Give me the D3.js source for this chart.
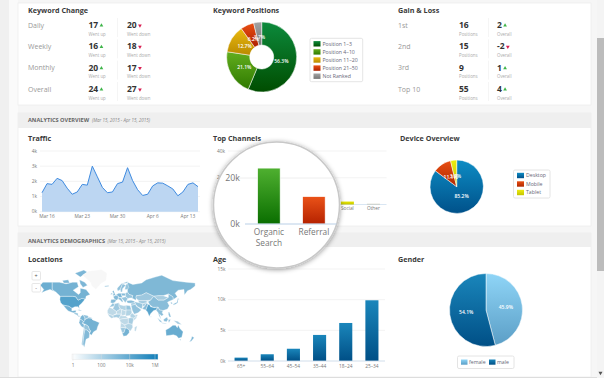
<!DOCTYPE html>
<html>
<head>
<meta charset="utf-8">
<script src="https://cdn.jsdelivr.net/npm/d3@7"></script>
<style>
html, body { margin: 0; padding: 0; background: #f6f6f6; overflow: hidden; }
svg { display: block; }
text { font-family: "Open Sans", sans-serif; }
.title { font-size: 7.2px; font-weight: 700; fill: #3a3a3a; }
.tick-label { font-size: 4.8px; fill: #777; }
.row-label { font-size: 7px; fill: #999; }
.big { font-size: 8.5px; font-weight: 700; fill: #333; }
.small { font-size: 4.4px; fill: #aaa; }
.legend-label { font-size: 5.2px; fill: #667; }
.slice-label { font-size: 5px; font-weight: 600; fill: #fff; text-anchor: middle; }
</style>
</head>
<body>
<div id="chart"></div>
<script>
// ---- data ----
var changeRows = ["Daily", "Weekly", "Monthly", "Overall"];
var wentUp = [17, 16, 20, 24];
var wentDown = [20, 18, 17, 27];

var gainRows = ["1st", "2nd", "3rd", "Top 10"];
var gainPositions = [16, 15, 9, 55];
var gainOverall = [2, -2, 1, 4];

var positionNames = ["Position 1\u20133", "Position 4\u201310", "Position 11\u201320", "Position 21\u201350", "Not Ranked"];
var positionValues = [56.3, 21.1, 12.7, 6.2, 3.7];

var trafficStart = "2015-03-15";
var trafficValues = [1.25, 1.85, 1.8, 2.2, 2.05, 1.55, 1.15, 1.3, 1.8, 1.75, 3.0, 2.3, 1.6, 1.25, 1.3, 1.85,
    1.95, 2.9, 2.05, 1.45, 1.07, 1.15, 1.7, 1.9, 1.88, 1.7, 1.5, 1.05, 1.3, 1.8, 1.9, 1.65];
var trafficTicks = ["2015-03-16", "2015-03-23", "2015-03-30", "2015-04-06", "2015-04-13"];

// the 3rd and 4th channel sit behind the magnifier, so they have no bar
var channelNames = ["Organic Search", "Referral", "-a", "-b", "Social", "Other"];
var channelValues = [24300, 11900, 0, 0, 2200, 600];

var deviceNames = ["Desktop", "Mobile", "Tablet"];
var deviceValues = [85.2, 11.1, 3.7];

var ageNames = ["65+", "55\u201364", "45\u201354", "35\u201344", "18\u201324", "25\u201334"];
var ageValues = [550, 1100, 2000, 4250, 6200, 9900];

var genderNames = ["female", "male"];
var genderValues = [45.9, 54.1];

// rough country outlines as [lon, lat], with visits
var countries = [
    {v: 16000, p: [[-123,49],[-95,49],[-88,48],[-83,42],[-75,45],[-67,45],[-70,41],[-76,35],[-81,31],[-80,25],[-83,29],[-90,29],[-97,26],[-104,30],[-110,31],[-117,32.5],[-122,37],[-124,43]]},
    {v: 4000, p: [[-168,66],[-162,70],[-141,70],[-141,60],[-133,56],[-146,60],[-155,58],[-165,55],[-160,60]]},
    {v: 2500, p: [[-141,70],[-125,70],[-110,68],[-95,70],[-85,70],[-82,64],[-94,59],[-82,52],[-78,55],[-78,62],[-65,60],[-56,52],[-65,49],[-66,44],[-75,45],[-83,42],[-88,48],[-95,49],[-123,49],[-133,56],[-141,60]]},
    {v: 1500, p: [[-80,73],[-68,70],[-62,66],[-72,63],[-78,68]]},
    {v: 1500, p: [[-90,80],[-70,83],[-62,81],[-78,76]]},
    {v: 1500, p: [[-118,72],[-105,73],[-102,69],[-115,69]]},
    {v: 1, p: [[-73,78],[-60,82],[-30,83.5],[-18,80],[-20,72],[-32,68],[-43,60],[-52,65],[-55,70]]},
    {v: 3000, p: [[-117,32.5],[-110,31],[-104,30],[-97,26],[-97,20],[-90,21],[-87,21],[-89,16],[-94,16],[-105,20],[-110,25]]},
    {v: 300, p: [[-92,16],[-88,16],[-83,15],[-83,10],[-78,9],[-81,7],[-86,11],[-92,14]]},
    {v: 120, p: [[-85,22],[-80,23],[-74,20],[-78,20]]},
    {v: 2500, p: [[-74,-7],[-70,-4],[-69,1],[-60,5],[-52,4],[-50,0],[-44,-2],[-35,-6],[-39,-15],[-41,-22],[-48,-26],[-53,-33],[-57,-30],[-55,-24],[-58,-20],[-60,-14],[-66,-10]]},
    {v: 1800, p: [[-77,8],[-72,12],[-68,6],[-67,1],[-70,-4],[-75,0],[-79,2]]},
    {v: 500, p: [[-72,12],[-62,10],[-60,8],[-60,5],[-69,1],[-67,1],[-68,6]]},
    {v: 120, p: [[-60,8],[-52,5],[-50,0],[-52,4],[-60,5]]},
    {v: 1200, p: [[-80,-3],[-79,2],[-75,0],[-70,-4],[-74,-7],[-69,-11],[-70,-18],[-76,-14],[-81,-6]]},
    {v: 300, p: [[-69,-11],[-66,-10],[-60,-14],[-58,-20],[-55,-24],[-58,-27],[-63,-22],[-68,-22],[-70,-18]]},
    {v: 500, p: [[-70,-18],[-68,-22],[-71,-40],[-72,-50],[-68,-55],[-75,-50],[-73,-37]]},
    {v: 1000, p: [[-68,-22],[-63,-22],[-58,-27],[-57,-30],[-58,-38],[-65,-41],[-68,-52],[-68,-55],[-72,-50],[-71,-40]]},
    {v: 1300, p: [[28,70],[40,67],[60,69],[70,73],[90,76],[105,78],[130,72],[160,70],[180,69],[180,65],[170,60],[163,58],[156,51],[155,60],[142,59],[135,54],[140,48],[131,43],[130,48],[120,53],[108,50],[98,50],[87,49],[70,55],[60,51],[48,50],[47,42],[38,46],[40,50],[32,52],[28,56]]},
    {v: 200, p: [[48,50],[60,51],[70,55],[87,49],[80,42],[68,41],[56,41],[52,42],[47,46]]},
    {v: 120, p: [[87,49],[98,50],[108,50],[120,47],[110,42],[97,42]]},
    {v: 700, p: [[80,42],[87,49],[97,42],[110,42],[120,47],[120,53],[130,48],[131,43],[122,40],[118,38],[122,31],[118,24],[108,21],[100,22],[97,28],[85,28],[78,33],[74,39]]},
    {v: 12000, p: [[74,34],[78,33],[80,29],[88,27],[96,28],[92,22],[87,21],[80,14],[77,8],[73,18],[69,22],[71,27]]},
    {v: 800, p: [[61,25],[69,22],[71,27],[74,34],[71,37],[66,30]]},
    {v: 150, p: [[52,42],[56,41],[68,41],[74,39],[71,37],[62,35],[54,37]]},
    {v: 100, p: [[62,35],[71,37],[66,30],[61,30]]},
    {v: 300, p: [[44,39],[54,37],[62,35],[61,25],[57,26],[50,30],[46,34]]},
    {v: 700, p: [[26,41],[36,42],[44,40],[44,37],[36,36],[28,36.5]]},
    {v: 400, p: [[36,32],[46,34],[48,30],[56,25],[59,22],[52,16],[43,13],[39,21]]},
    {v: 200, p: [[36,36],[44,37],[46,34],[36,32]]},
    {v: 600, p: [[97,28],[100,22],[108,21],[106,16],[109,12],[105,9],[100,13],[104,1],[99,9],[97,16],[92,22]]},
    {v: 1200, p: [[130,32],[136,34],[141,37],[142,43],[145,44],[141,45],[139,38],[132,35]]},
    {v: 500, p: [[125,38],[128,38],[129,35],[126,34.5]]},
    {v: 900, p: [[120,18],[122,18],[126,7],[122,7],[120,13]]},
    {v: 800, p: [[95,5],[104,-2],[106,-6],[101,-4]]},
    {v: 800, p: [[106,-6],[115,-7.5],[115,-8.5],[106,-7.5]]},
    {v: 700, p: [[109,1],[117,7],[119,1],[116,-4],[110,-3]]},
    {v: 500, p: [[120,1],[125,1],[122,-5],[120,-5]]},
    {v: 150, p: [[131,-1],[141,-3],[150,-10],[141,-9],[135,-4]]},
    {v: 200, p: [[80,9],[82,7],[80.5,6]]},
    {v: 5000, p: [[114,-22],[122,-18],[130,-12],[136,-12],[140,-17],[142,-11],[146,-19],[153,-26],[150,-37],[143,-39],[138,-34],[131,-32],[124,-33],[115,-34]]},
    {v: 2000, p: [[145,-41],[148,-41],[147,-43.5]]},
    {v: 1500, p: [[173,-35],[178,-38],[175,-41],[172,-44],[167,-46],[171,-41]]},
    {v: 30, p: [[44,-16],[50,-13],[47,-25],[44,-24]]},
    {v: 800, p: [[-10,37],[-9,43],[-1,43.5],[3,42],[0,38],[-5,36]]},
    {v: 1000, p: [[-1,43.5],[-4,48],[2,51],[8,49],[7,44],[3,42]]},
    {v: 3000, p: [[-5,50],[1,51],[-2,56],[-3,58.5],[-6,57],[-3,54]]},
    {v: 300, p: [[-10,52],[-6,52],[-6,55],[-9,54]]},
    {v: 120, p: [[-24,65],[-14,66],[-14,64.5],[-22,63.5]]},
    {v: 400, p: [[5,59],[5,62],[14,68],[28,71],[28,69],[17,68],[12,60],[8,58]]},
    {v: 500, p: [[12,60],[17,68],[24,66],[17,61],[16,56],[13,56]]},
    {v: 300, p: [[24,66],[28,69],[31,63],[28,60],[22,60]]},
    {v: 1400, p: [[2,51],[8,54],[14,54],[15,50],[17,47],[8,47],[8,49]]},
    {v: 800, p: [[14,54],[23,54],[24,50],[15,50]]},
    {v: 700, p: [[7,44],[8,47],[14,46],[18,40],[16,38],[12,42]]},
    {v: 300, p: [[14,46],[17,47],[24,48],[29,45],[26,41],[23,37],[19,42]]},
    {v: 300, p: [[23,54],[28,56],[32,52],[40,50],[38,46],[33,46],[29,45],[24,48],[24,50]]},
    {v: 300, p: [[-6,36],[-1,35],[-2,30],[-13,28],[-9,32]]},
    {v: 200, p: [[-1,35],[9,37],[9,30],[12,24],[3,19],[-5,25],[-2,30]]},
    {v: 60, p: [[9,37],[11,33],[20,31],[25,32],[25,20],[15,23],[12,24],[9,30]]},
    {v: 300, p: [[25,32],[34,31],[37,22],[25,22]]},
    {v: 30, p: [[-17,21],[-13,28],[-5,25],[3,19],[4,15],[-5,10],[-12,12],[-17,15]]},
    {v: 30, p: [[3,19],[12,24],[15,23],[14,13],[4,13]]},
    {v: 30, p: [[15,23],[25,20],[24,12],[15,9],[14,13]]},
    {v: 60, p: [[25,22],[37,22],[38,16],[34,10],[24,9],[24,12],[25,20]]},
    {v: 60, p: [[34,10],[38,16],[43,12],[48,8],[42,4],[35,5]]},
    {v: 30, p: [[43,12],[51,12],[48,4],[41,-2],[42,4],[48,8]]},
    {v: 60, p: [[-17,15],[-12,12],[-5,10],[-3,5],[-8,4],[-13,8]]},
    {v: 120, p: [[-5,10],[4,13],[14,13],[9,4],[3,6],[-3,5]]},
    {v: 30, p: [[9,4],[14,13],[15,9],[24,9],[30,4],[18,3],[10,1]]},
    {v: 30, p: [[10,1],[18,3],[30,4],[30,-8],[22,-11],[13,-6]]},
    {v: 120, p: [[30,4],[35,5],[42,4],[41,-2],[39,-10],[30,-8]]},
    {v: 30, p: [[13,-6],[22,-11],[24,-17],[12,-17]]},
    {v: 60, p: [[22,-11],[30,-8],[39,-10],[40,-16],[35,-24],[32,-22],[24,-17]]},
    {v: 200, p: [[12,-17],[24,-17],[20,-28],[16,-28]]},
    {v: 2500, p: [[16,-28],[20,-28],[24,-17],[32,-22],[32,-28],[26,-34],[19,-35]]}
];

var mapTicks = [1, 100, 10000, 1000000];
var mapTickLabels = ["1", "100", "10k", "1M"];

// ---- page ----
var width = 604, height = 378;

var svg = d3.select("#chart").append("svg")
    .attr("width", width)
    .attr("height", height);

var defs = svg.append("defs");

function gradient(id, top, bottom) {
    var g = defs.append("linearGradient").attr("id", id)
        .attr("x1", 0).attr("y1", 0).attr("x2", 0).attr("y2", 1);
    g.append("stop").attr("offset", "0%").attr("stop-color", top);
    g.append("stop").attr("offset", "100%").attr("stop-color", bottom);
    return "url(#" + id + ")";
}

var positionFill = [gradient("p0", "#0c8a3c", "#004d00"), gradient("p1", "#62ad1e", "#2f7a00"),
    gradient("p2", "#eab90f", "#b98a00"), gradient("p3", "#ea4f12", "#ad2000"), gradient("p4", "#a3a3a3", "#777")];
var deviceFill = [gradient("d0", "#0d8cc4", "#00518a"), gradient("d1", "#e84e12", "#b02800"), gradient("d2", "#ecec10", "#c4c400")];
var genderFill = [gradient("g0", "#8fd5f7", "#5b9ec6"), gradient("g1", "#1a86bb", "#004f86")];
var ageFill = gradient("a0", "#1a86bb", "#004f86");
var channelFill = {"Organic Search": gradient("c0", "#4fb030", "#0a6e00"), "Referral": gradient("c1", "#ea5218", "#b52200"),
    "Social": gradient("c2", "#e6e600", "#c4c400"), "Other": gradient("c3", "#d8d8c8", "#c4c4b4")};

var shadow = defs.append("filter").attr("id", "lens-shadow")
    .attr("x", "-20%").attr("y", "-20%").attr("width", "140%").attr("height", "140%");
shadow.append("feDropShadow").attr("dx", 0).attr("dy", 1).attr("stdDeviation", 2.5)
    .attr("flood-color", "#000").attr("flood-opacity", 0.4);

// left gutter and scrollbar
svg.append("rect").attr("width", 9).attr("height", height).attr("fill", "#f0f0f0");
svg.append("rect").attr("x", 9).attr("width", 9).attr("height", height).attr("fill", "#fafafa");
svg.append("rect").attr("x", 597).attr("width", 7).attr("height", height).attr("fill", "#f4f4f4");
svg.append("rect").attr("x", 597).attr("y", 38).attr("width", 7).attr("height", 233).attr("fill", "#bcbcbc");
svg.append("path").attr("d", d3.symbol(d3.symbolTriangle, 7)()).attr("fill", "#555")
    .attr("transform", "translate(600.5,373) rotate(180)");

// cards
var cards = [[3, 102, 0], [113, 113, 15], [233, 144, 14]];
cards.forEach(function(c) {
    svg.append("rect").attr("x", 18).attr("y", c[0]).attr("width", 573).attr("height", c[1])
        .attr("fill", "#fff").attr("stroke", "#ececec").attr("stroke-width", 0.7);
    if (c[2]) {
        svg.append("rect").attr("x", 18).attr("y", c[0]).attr("width", 573).attr("height", c[2]).attr("fill", "#efefef");
    }
});
svg.append("rect").attr("x", 0).attr("y", 377).attr("width", 597).attr("height", 1).attr("fill", "#ddd");

function header(y, name, dateX) {
    svg.append("text").attr("x", 28).attr("y", y).attr("font-size", 5.6).attr("font-weight", 700)
        .attr("fill", "#666").text(name);
    svg.append("text").attr("x", dateX).attr("y", y).attr("font-size", 4.5).attr("font-style", "italic")
        .attr("fill", "#888").text("(Mar 15, 2015 - Apr 15, 2015)");
}
header(122, "ANALYTICS OVERVIEW", 92);
header(243, "ANALYTICS DEMOGRAPHICS", 107.5);

function title(x, y, name) {
    svg.append("text").attr("class", "title").attr("x", x).attr("y", y).text(name);
}
title(28, 12.5, "Keyword Change");
title(213, 12.5, "Keyword Positions");
title(398, 12.5, "Gain & Loss");
title(28, 141, "Traffic");
title(213, 141, "Top Channels");
title(400, 141, "Device Overview");
title(28, 261.5, "Locations");
title(213, 261.5, "Age");
title(398, 261.5, "Gender");

// ---- stat tables ----
function marker(x, y, isUp) {
    svg.append("path").attr("d", d3.symbol(d3.symbolTriangle, 6)())
        .attr("fill", isUp ? "#3fb54a" : "#d81e50")
        .attr("transform", "translate(" + x + "," + y + ")" + (isUp ? "" : " rotate(180)"));
}

function statTable(rows, first, second, firstLabel, secondLabel, x0, x1, x2, divX, firstMarks) {
    var y = d3.scalePoint().domain(rows).range([28, 92]);
    rows.forEach(function(r, i) {
        var yy = y(r);
        svg.append("text").attr("class", "row-label").attr("x", x0).attr("y", yy - 0.5).text(r);
        var a = svg.append("text").attr("class", "big").attr("x", x1).attr("y", yy).text(first[i]);
        svg.append("text").attr("class", "small").attr("x", x1).attr("y", yy + 7.5).text(firstLabel);
        var b = svg.append("text").attr("class", "big").attr("x", x2).attr("y", yy).text(second[i]);
        svg.append("text").attr("class", "small").attr("x", x2).attr("y", yy + 7.5).text(secondLabel);
        svg.append("line").attr("x1", divX).attr("x2", divX).attr("y1", yy - 10).attr("y2", yy + 9)
            .attr("stroke", "#f0f0f0").attr("stroke-width", 0.7);
        if (firstMarks) marker(x1 + a.node().getComputedTextLength() + 3.2, yy - 2.5, true);
        marker(x2 + b.node().getComputedTextLength() + 3.2, yy - 2.5, firstMarks ? false : second[i] > 0);
    });
}
statTable(changeRows, wentUp, wentDown, "Went up", "Went down", 28, 88.5, 127, 117.5, true);
statTable(gainRows, gainPositions, gainOverall, "Positions", "Overall", 398, 459, 497, 488.5, false);

// ---- pies ----
function drawPie(cx, cy, r, inner, values, fills, labelR) {
    var pie = d3.pie().sort(null)(values);
    var arc = d3.arc().innerRadius(inner).outerRadius(r);
    var label = d3.arc().innerRadius(labelR).outerRadius(labelR);
    var g = svg.append("g").attr("transform", "translate(" + cx + "," + cy + ")");
    g.selectAll("path").data(pie).enter().append("path")
        .attr("d", arc)
        .attr("fill", function(d, i) { return fills[i]; })
        .attr("stroke", "#fff").attr("stroke-width", 0.5);
    g.selectAll("text").data(pie).enter().append("text")
        .attr("class", "slice-label")
        .attr("transform", function(d) { return "translate(" + label.centroid(d) + ")"; })
        .attr("dy", "0.35em")
        .text(function(d) { return d3.format(".1f")(d.value) + "%"; });
}
drawPie(261.7, 57, 35, 12, positionValues, positionFill, 20);
drawPie(456.7, 186.7, 26.7, 0, deviceValues, deviceFill, 11);
drawPie(486, 310, 36.5, 0, genderValues, genderFill, 20);

function legendBox(x, y, w, h) {
    svg.append("rect").attr("x", x).attr("y", y).attr("width", w).attr("height", h).attr("rx", 1.5)
        .attr("fill", "#fff").attr("stroke", "#ddd").attr("stroke-width", 0.8);
}
function verticalLegend(x, y, w, h, names, fills) {
    legendBox(x, y, w, h);
    var ly = d3.scalePoint().domain(names).range([y + 5.5, y + h - 5.5]);
    names.forEach(function(n, i) {
        svg.append("rect").attr("x", x + 3.5).attr("y", ly(n) - 2.7).attr("width", 7).attr("height", 5.4).attr("fill", fills[i]);
        svg.append("text").attr("class", "legend-label").attr("x", x + 12.5).attr("y", ly(n) + 1.9).text(n);
    });
}
verticalLegend(310, 38.3, 52.7, 43.4, positionNames, positionFill);
verticalLegend(513.5, 170, 36.5, 28, deviceNames, deviceFill);

legendBox(457.5, 356, 56.5, 12.5);
[[461, 0], [489, 1]].forEach(function(g) {
    svg.append("rect").attr("x", g[0]).attr("y", 359.5).attr("width", 6.5).attr("height", 5.2).attr("fill", genderFill[g[1]]);
    svg.append("text").attr("class", "legend-label").attr("x", g[0] + 8).attr("y", 364).text(genderNames[g[1]]);
});

// ---- grid helper ----
function yGrid(y, ticks, x0, x1, format, labelX) {
    ticks.forEach(function(t) {
        svg.append("line").attr("x1", x0).attr("x2", x1).attr("y1", y(t)).attr("y2", y(t))
            .attr("stroke", "#f0f0f0").attr("stroke-width", 0.8);
        svg.append("text").attr("class", "tick-label").attr("x", labelX).attr("y", y(t)).attr("dy", "0.35em")
            .attr("text-anchor", "end").text(format(t));
    });
}
var kFormat = function(t) { return (t / 1000) + "k"; };

// ---- traffic ----
var parseDay = d3.timeParse("%Y-%m-%d");
var trafficX = d3.scaleTime()
    .domain([parseDay(trafficStart), d3.timeDay.offset(parseDay(trafficStart), trafficValues.length - 1)])
    .range([42, 198]);
var trafficY = d3.scaleLinear().domain([0, 4]).range([211.7, 151]);
yGrid(trafficY, [0, 1, 2, 3, 4], 40, 200, function(t) { return t + "k"; }, 37);

var dayAt = function(d, i) { return trafficX(d3.timeDay.offset(parseDay(trafficStart), i)); };
svg.append("path").datum(trafficValues)
    .attr("fill", "#bcd6f2")
    .attr("d", d3.area().x(dayAt).y0(trafficY(0)).y1(function(d) { return trafficY(d); }));
svg.append("path").datum(trafficValues)
    .attr("fill", "none").attr("stroke", "#3f8be0").attr("stroke-width", 1)
    .attr("d", d3.line().x(dayAt).y(function(d) { return trafficY(d); }));
trafficTicks.forEach(function(t) {
    svg.append("text").attr("class", "tick-label").attr("x", trafficX(parseDay(t))).attr("y", 218)
        .attr("text-anchor", "middle").text(d3.timeFormat("%b %-d")(parseDay(t)));
});

// ---- top channels, base chart (most of it under the lens) ----
var channelX = d3.scaleBand().domain(channelNames).range([230, 386.5]);
var channelY = d3.scaleLinear().domain([0, 40000]).range([204.5, 151]);
yGrid(channelY, [20000, 40000], 228, 386.5, kFormat, 225);
svg.append("line").attr("x1", 228).attr("x2", 386.5).attr("y1", channelY(0)).attr("y2", channelY(0))
    .attr("stroke", "#cfdff0").attr("stroke-width", 0.8);
svg.selectAll(".channel").data(channelNames.filter(function(d, i) { return i >= 4; })).enter().append("rect")
    .attr("class", "channel")
    .attr("x", function(d) { return channelX(d) + channelX.bandwidth() * 0.25; })
    .attr("width", channelX.bandwidth() * 0.5)
    .attr("y", function(d) { return channelY(channelValues[channelNames.indexOf(d)]); })
    .attr("height", function(d) { return channelY(0) - channelY(channelValues[channelNames.indexOf(d)]); })
    .attr("fill", function(d) { return channelFill[d]; });
["Social", "Other"].forEach(function(n) {
    svg.append("text").attr("class", "tick-label").attr("x", channelX(n) + channelX.bandwidth() * 0.5).attr("y", 210)
        .attr("text-anchor", "middle").text(n);
});

// ---- age ----
var ageX = d3.scaleBand().domain(ageNames).range([228, 385]).paddingInner(0.5).paddingOuter(0.25);
var ageY = d3.scaleLinear().domain([0, 15000]).range([361, 269]);
yGrid(ageY, [0, 5000, 10000, 15000], 228, 385, kFormat, 225.5);
svg.selectAll(".age").data(ageNames).enter().append("rect")
    .attr("class", "age")
    .attr("x", function(d) { return ageX(d); })
    .attr("width", ageX.bandwidth())
    .attr("y", function(d, i) { return ageY(ageValues[i]); })
    .attr("height", function(d, i) { return ageY(0) - ageY(ageValues[i]); })
    .attr("fill", ageFill);
svg.append("line").attr("x1", 228).attr("x2", 385).attr("y1", ageY(0)).attr("y2", ageY(0))
    .attr("stroke", "#cfdff0").attr("stroke-width", 0.8);
ageNames.forEach(function(n) {
    svg.append("text").attr("class", "tick-label").attr("x", ageX(n) + ageX.bandwidth() / 2).attr("y", 367.5)
        .attr("text-anchor", "middle").text(n);
});

// ---- magnifier: same channel values, larger scales ----
var lens = {x: 276.5, y: 205, r: 63};
defs.append("clipPath").attr("id", "lens-clip").append("circle")
    .attr("cx", lens.x).attr("cy", lens.y).attr("r", lens.r);
svg.append("circle").attr("cx", lens.x).attr("cy", lens.y).attr("r", lens.r)
    .attr("fill", "#fff").attr("stroke", "#c8c8c8").attr("stroke-width", 1.5)
    .attr("filter", "url(#lens-shadow)");

var lensG = svg.append("g").attr("clip-path", "url(#lens-clip)");
var lensX = d3.scaleBand().domain(channelNames).range([246.4, 516.4]);
var lensY = d3.scaleLinear().domain([0, 20000]).range([224, 178]);

lensG.append("line").attr("x1", 232).attr("x2", lens.x + lens.r).attr("y1", lensY(20000)).attr("y2", lensY(20000))
    .attr("stroke", "#eee").attr("stroke-width", 1);
lensG.selectAll(".lens-bar").data(channelNames.slice(0, 2)).enter().append("rect")
    .attr("class", "lens-bar")
    .attr("x", function(d) { return lensX(d) + lensX.bandwidth() * 0.25; })
    .attr("width", lensX.bandwidth() * 0.5)
    .attr("y", function(d, i) { return lensY(channelValues[i]); })
    .attr("height", function(d, i) { return lensY(0) - lensY(channelValues[i]); })
    .attr("fill", function(d) { return channelFill[d]; })
    .attr("stroke", "#fff").attr("stroke-width", 0.6);
lensG.append("line").attr("x1", 245).attr("x2", lens.x + lens.r).attr("y1", lensY(0)).attr("y2", lensY(0))
    .attr("stroke", "#b9cfe6").attr("stroke-width", 1);
[[20000, "20k"], [0, "0k"]].forEach(function(t) {
    lensG.append("text").attr("x", 240).attr("y", lensY(t[0])).attr("dy", "0.35em").attr("text-anchor", "end")
        .attr("font-size", 8.8).attr("fill", "#777").text(t[1]);
});
lensG.append("text").attr("y", 235)
    .attr("text-anchor", "middle").attr("font-size", 8.3).attr("fill", "#777")
    .selectAll("tspan").data(["Organic", "Search"]).enter().append("tspan")
    .attr("x", lensX("Organic Search") + lensX.bandwidth() / 2)
    .attr("dy", function(d, i) { return i ? 11 : 0; })
    .text(function(d) { return d; });
lensG.append("text").attr("x", lensX("Referral") + lensX.bandwidth() / 2).attr("y", 235)
    .attr("text-anchor", "middle").attr("font-size", 8.3).attr("fill", "#777").text("Referral");

// ---- map ----
// Miller projection, the one the world map looks to be drawn with
var miller = d3.geoProjection(function(lambda, phi) {
    return [lambda, 1.25 * Math.log(Math.tan(Math.PI / 4 + 0.4 * phi))];
}).scale(25.5).translate([115, 320]).precision(0);

var mapColor = d3.scaleLog().domain([1, 1000000]).range(["#f7f7f7", "#0f7db8"]).interpolate(d3.interpolateRgb);

svg.append("g").selectAll("path").data(countries).enter().append("path")
    .attr("d", function(d) { return d3.line()(d.p.map(miller)) + "Z"; })
    .attr("fill", function(d) { return mapColor(d.v); })
    .attr("stroke", "#fff").attr("stroke-width", 0.35);

// zoom buttons
[[271.5, "+"], [283.5, "-"]].forEach(function(b) {
    svg.append("rect").attr("x", 32).attr("y", b[0]).attr("width", 8.5).attr("height", 8.5).attr("rx", 1)
        .attr("fill", "#fff").attr("stroke", "#ddd").attr("stroke-width", 0.7);
    svg.append("text").attr("x", 36.2).attr("y", b[0] + 6).attr("text-anchor", "middle")
        .attr("font-size", 5.5).attr("fill", "#555").text(b[1]);
});

// map legend
var mapLegendX = d3.scaleLog().domain([1, 1000000]).range([73, 158]);
var mapGrad = defs.append("linearGradient").attr("id", "map-legend");
mapGrad.append("stop").attr("offset", "0%").attr("stop-color", "#ffffff");
mapGrad.append("stop").attr("offset", "100%").attr("stop-color", "#0f7db8");
svg.append("rect").attr("x", 72).attr("y", 354).attr("width", 86).attr("height", 5.5).attr("fill", "url(#map-legend)")
    .attr("stroke", "#e4e4e4").attr("stroke-width", 0.4);
mapTicks.forEach(function(t, i) {
    var tx = mapLegendX(t) - (i === 3 ? 3 : 0);
    svg.append("line").attr("x1", tx).attr("x2", tx).attr("y1", 354).attr("y2", 361).attr("stroke", "#ddd").attr("stroke-width", 0.4);
    svg.append("text").attr("class", "tick-label").attr("x", tx).attr("y", 366.5).attr("text-anchor", "middle").text(mapTickLabels[i]);
});
</script>
</body>
</html>
